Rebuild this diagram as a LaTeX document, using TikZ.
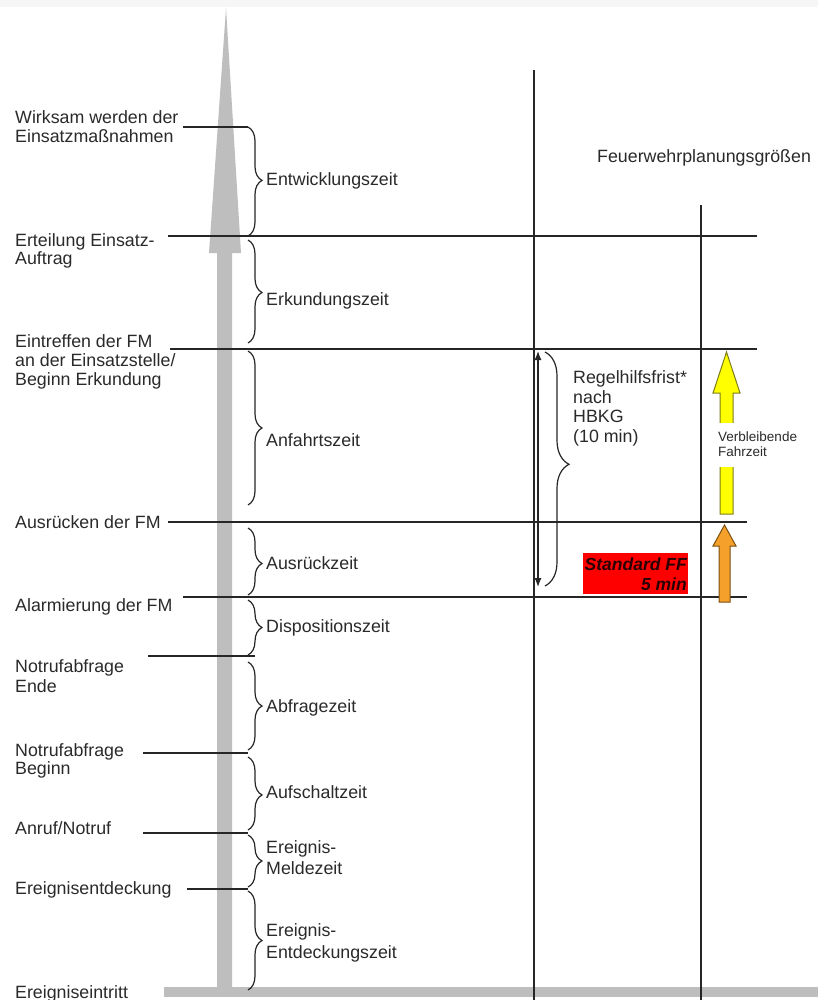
\documentclass[tikz,border=0pt]{standalone}
\usepackage{fontspec}
\setmainfont{Liberation Sans}
\usetikzlibrary{decorations.pathreplacing,arrows.meta}
\definecolor{lin}{HTML}{262626}
\definecolor{arrgray}{HTML}{BEBEBE}
\definecolor{yel}{HTML}{FFFF00}
\definecolor{yelline}{HTML}{7C7C1C}
\definecolor{ora}{HTML}{F5A02A}
\definecolor{oraline}{HTML}{7A5010}
\definecolor{redbox}{HTML}{FF0000}
\definecolor{txt}{HTML}{2A2A2A}
\definecolor{redtxt}{HTML}{2A0000}
\begin{document}
\begin{tikzpicture}[x=1pt,y=-1pt,
  lbl/.style={anchor=base west,inner sep=0pt,text=txt,font=\fontsize{17.8}{19}\selectfont},
  smalllbl/.style={anchor=base west,inner sep=0pt,text=txt,font=\fontsize{13.5}{15}\selectfont},
  fflbl/.style={anchor=base east,inner sep=0pt,text=redtxt,font=\fontsize{17.5}{19}\selectfont\bfseries\itshape},
  tl/.style={draw=lin,line width=1.3pt},
  br/.style={draw=lin,line width=1.2pt,decorate,decoration={brace,amplitude=14pt,aspect=#1}},
  bigbr/.style={draw=lin,line width=1.2pt,decorate,decoration={brace,amplitude=24pt,aspect=#1}},
]
\useasboundingbox (0,0) rectangle (818,1000);
\fill[white] (0,0) rectangle (818,1000);
\fill[gray!7] (0,0) rectangle (818,7);

% grey time arrow and base bar
\fill[arrgray] (217,253) -- (217,990) -- (232,990) -- (232,253) -- (241,253) -- (226,8) -- (209,253) -- cycle;
\fill[arrgray] (164,987) rectangle (818,997);

% vertical lines
\draw[tl] (534,70) -- (534,1000);
\draw[tl] (701,205) -- (701,1000);

% horizontal time marks
\draw[tl] (183,127) -- (248,127);
\draw[tl] (168,236) -- (757,236);
\draw[tl] (170,349) -- (757,349);
\draw[tl] (168,522) -- (747,522);
\draw[tl] (183,597) -- (747,597);
\draw[tl] (148,656) -- (255,656);
\draw[tl] (143,753) -- (248,753);
\draw[tl] (143,833) -- (248,833);
\draw[tl] (187,889) -- (248,889);

% braces
\draw[br=0.49] (248,127) -- (248,236);
\draw[br=0.51] (248,240) -- (248,343);
\draw[br=0.50] (248,351) -- (248,505);
\draw[br=0.53] (248,528) -- (248,595);
\draw[br=0.50] (248,600) -- (248,655);
\draw[br=0.50] (248,662) -- (248,750);
\draw[br=0.52] (248,757) -- (248,830);
\draw[br=0.50] (248,835) -- (248,887);
\draw[br=0.50] (248,891) -- (248,990);

% left labels
\node[lbl] (wirk1) at (15,124) {Wirksam werden der};
\node[lbl] (wirk2) at (15,143) {Einsatzmaßnahmen};
\node[lbl] (ert1) at (15,246) {Erteilung Einsatz-};
\node[lbl] (ert2) at (15,264) {Auftrag};
\node[lbl] (ein1) at (15,347) {Eintreffen der FM};
\node[lbl] (ein2) at (15,366) {an der Einsatzstelle/};
\node[lbl] (ein3) at (15,385) {Beginn Erkundung};
\node[lbl] (ausr) at (15,528) {Ausrücken der FM};
\node[lbl] (alarm) at (15,611) {Alarmierung der FM};
\node[lbl] (nae1) at (15,672) {Notrufabfrage};
\node[lbl] (nae2) at (15,692) {Ende};
\node[lbl] (nab1) at (15,756) {Notrufabfrage};
\node[lbl] (nab2) at (15,774) {Beginn};
\node[lbl] (anruf) at (15,834) {Anruf/Notruf};
\node[lbl] (entd) at (15,894) {Ereignisentdeckung};
\node[lbl] (eintr) at (15,998) {Ereigniseintritt};

% brace labels
\node[lbl] (entw) at (266,186) {Entwicklungszeit};
\node[lbl] (erk) at (266,305) {Erkundungszeit};
\node[lbl] (anf) at (266,446) {Anfahrtszeit};
\node[lbl] (ausz) at (266,569) {Ausrückzeit};
\node[lbl] (disp) at (266,632) {Dispositionszeit};
\node[lbl] (abfr) at (266,712) {Abfragezeit};
\node[lbl] (aufs) at (266,798) {Aufschaltzeit};
\node[lbl] (mel1) at (266,853) {Ereignis-};
\node[lbl] (mel2) at (266,874) {Meldezeit};
\node[lbl] (ent1) at (266,936) {Ereignis-};
\node[lbl] (ent2) at (266,958) {Entdeckungszeit};

% right side
\node[lbl] (fwp) at (597,163) {Feuerwehrplanungsgrößen};

\coordinate (rtop) at (538,351);
\coordinate (rbot) at (538,587);
\draw[draw=lin,line width=1.2pt,{Latex[length=9pt,width=7pt]}-{Latex[length=9pt,width=7pt]}] (rtop) -- (rbot);
\draw[bigbr=0.48] (545,352) -- (545,586);
\node[lbl] (rh1) at (573,383) {Regelhilfsfrist*};
\node[lbl] (rh2) at (573,403) {nach};
\node[lbl] (rh3) at (573,422) {HBKG};
\node[lbl] (rh4) at (573,442) {(10 min)};

% red box
\fill[redbox] (583,553) rectangle (688,594);
\node[fflbl] (ff1) at (687,570) {Standard FF};
\node[fflbl] (ff2) at (687,590) {5 min};

% yellow arrow
\filldraw[fill=yel,draw=yelline,line width=1pt] (726.5,352) -- (740,393) -- (733,393) -- (733,514) -- (720,514) -- (720,393) -- (713,393) -- cycle;
\fill[white] (714,423) rectangle (745,467);
\node[smalllbl] (vb1) at (718,441) {Verbleibende};
\node[smalllbl] (vb2) at (718,456) {Fahrzeit};

% orange arrow
\filldraw[fill=ora,draw=oraline,line width=1pt] (724.5,525) -- (736,546) -- (730,546) -- (730,602) -- (719,602) -- (719,546) -- (713,546) -- cycle;
\end{tikzpicture}
\end{document}
